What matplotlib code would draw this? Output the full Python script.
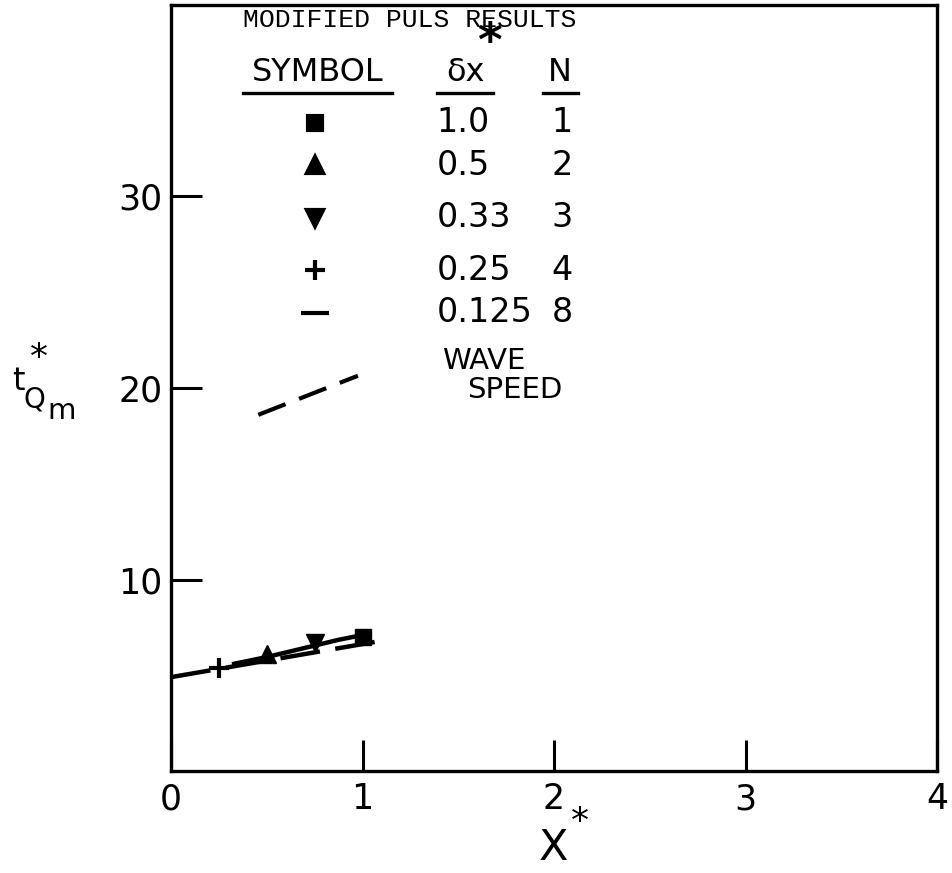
import numpy as np
import matplotlib
matplotlib.use("Agg")
import matplotlib.pyplot as plt

# Modified Puls results
x_sq, y_sq = [1.0], [7.0]          # dx = 1.0,  N = 1
x_up, y_up = [0.5], [6.1]          # dx = 0.5,  N = 2
x_dn, y_dn = [0.75], [6.7]         # dx = 0.33, N = 3
x_pl, y_pl = [0.25], [5.4]         # dx = 0.25, N = 4
x_n8 = [0.33, 0.5, 0.625, 0.75, 0.875, 1.0]     # dx = 0.125, N = 8
y_n8 = [5.6, 5.95, 6.25, 6.55, 6.85, 7.1]
x_wave = [0.0, 1.1]                # wave speed line
y_wave = [4.9, 6.8]

legend_symbols = ["s", "^", "v", "+", "_"]
legend_dx = ["1.0", "0.5", "0.33", "0.25", "0.125"]
legend_n = ["1", "2", "3", "4", "8"]

plt.rcParams["font.family"] = ["DejaVu Sans"]
fig = plt.figure(figsize=(9.52, 8.73), dpi=100)
ax = fig.add_axes([171 / 952, 1 - 771 / 873, 766 / 952, 766 / 873])

ax.plot(x_wave, y_wave, color="black", lw=3.2, dashes=(9, 3.5), solid_capstyle="butt")
ax.plot(x_n8, y_n8, color="black", lw=3.2)
ax.plot(x_sq, y_sq, "s", color="black", ms=12)
ax.plot(x_up, y_up, "^", color="black", ms=13)
ax.plot(x_dn, y_dn, "v", color="black", ms=13)
ax.plot(x_pl, y_pl, "+", color="black", ms=15, mew=3)

ax.set_xlim(0, 4)
ax.set_ylim(0, 40)
ax.set_xticks([0, 1, 2, 3, 4])
ax.set_yticks([10, 20, 30])
ax.tick_params(direction="in", length=22, width=2.2, labelsize=25, pad=8)
ax.tick_params(axis="y", pad=6)
for s in ax.spines.values():
    s.set_linewidth(2.4)

# axis labels
fig.text(553 / 952, 1 - 848 / 873, "X", fontsize=31, ha="center", va="center")
fig.text(580 / 952, 1 - 822 / 873, "*", fontsize=26, ha="center", va="center")
fig.text(18 / 952, 1 - 382 / 873, "t", fontsize=23, ha="center", va="center")
fig.text(39 / 952, 1 - 358 / 873, "*", fontsize=26, ha="center", va="center")
fig.text(34 / 952, 1 - 400 / 873, "Q", fontsize=20, ha="center", va="center")
fig.text(62 / 952, 1 - 411 / 873, "m", fontsize=21, ha="center", va="center")

# legend table drawn inside the axes
T = ax.transAxes
ax.text(0.094, 0.980, "MODIFIED PULS RESULTS", transform=T, fontsize=19,
        family="Liberation Mono", va="center", ha="left")
ax.text(0.416, 0.950, "*", transform=T, fontsize=34, fontweight="bold",
        va="center", ha="center")
ax.text(0.191, 0.9125, "SYMBOL", transform=T, fontsize=23, va="center", ha="center")
ax.text(0.384, 0.9125, "δx", transform=T, fontsize=23, va="center", ha="center")
ax.text(0.508, 0.9125, "N", transform=T, fontsize=23, va="center", ha="center")
for x0, x1 in [(0.094, 0.289), (0.347, 0.420), (0.486, 0.531)]:
    ax.plot([x0, x1], [0.885, 0.885], transform=T, color="black", lw=2.4)

rows = [0.846, 0.791, 0.722, 0.654, 0.598]
sizes = [10, 11, 11, 15, 20]
for yy, m, ms, dx, n in zip(rows, legend_symbols, sizes, legend_dx, legend_n):
    ax.plot([0.188], [yy], m, transform=T, color="black", ms=ms, mew=3)
    ax.text(0.347, yy, dx, transform=T, fontsize=24, va="center", ha="left")
    ax.text(0.511, yy, n, transform=T, fontsize=24, va="center", ha="center")

ax.text(0.354, 0.535, "WAVE", transform=T, fontsize=21, va="center", ha="left")
ax.text(0.386, 0.497, "SPEED", transform=T, fontsize=21, va="center", ha="left")
ax.plot([0.114, 0.244], [0.465, 0.516], transform=T, color="black", lw=3,
        dashes=(7, 3.5), solid_capstyle="butt")

fig.savefig("out.png", dpi=100)
